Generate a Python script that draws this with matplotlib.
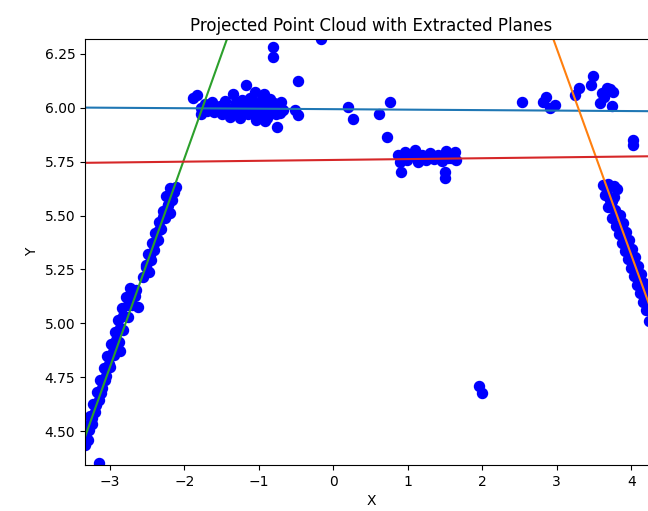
import numpy as np
import matplotlib
matplotlib.use("Agg")
import matplotlib.pyplot as plt

# projected points (x, y)
left_band = [
    (-3.319, 4.473), (-3.279, 4.505), (-3.346, 4.528), (-3.239, 4.533), (-3.266, 4.570),
    (-3.199, 4.589), (-3.226, 4.626), (-3.145, 4.645), (-3.172, 4.681), (-3.105, 4.700),
    (-3.132, 4.737), (-3.051, 4.756), (-3.078, 4.793), (-3.011, 4.811), (-3.038, 4.848),
    (-2.957, 4.867), (-2.984, 4.904), (-2.917, 4.922), (-2.930, 4.960), (-2.863, 4.978),
    (-2.890, 5.015), (-2.823, 5.034), (-2.836, 5.071), (-2.756, 5.085), (-2.783, 5.122),
    (-2.716, 5.136), (-2.729, 5.164), (-2.648, 5.154), (-2.620, 5.075), (-2.860, 4.870),
    (-3.293, 4.459), (-3.333, 4.436),
    (-3.300, 4.505), (-3.240, 4.563), (-3.180, 4.621), (-3.120, 4.679), (-3.060, 4.737),
    (-3.000, 4.796), (-2.940, 4.854), (-2.880, 4.912), (-2.820, 4.970), (-2.760, 5.028),
    (-2.700, 5.086), (-2.660, 5.125),
    (-2.555, 5.215), (-2.475, 5.238), (-2.515, 5.270), (-2.448, 5.293), (-2.488, 5.321),
    (-2.407, 5.340), (-2.434, 5.372), (-2.354, 5.386), (-2.394, 5.419), (-2.313, 5.437),
    (-2.340, 5.470), (-2.260, 5.488), (-2.286, 5.521), (-2.192, 5.512), (-2.219, 5.549),
    (-2.165, 5.572), (-2.246, 5.591), (-2.139, 5.609), (-2.192, 5.628), (-2.111, 5.632),
    (-2.520, 5.260), (-2.460, 5.319), (-2.400, 5.377), (-2.340, 5.435), (-2.280, 5.493),
    (-2.220, 5.551), (-2.160, 5.609),
]
top_cluster = [
    (-1.883, 6.045), (-1.830, 6.059), (-1.776, 5.999), (-1.776, 5.971), (-1.722, 6.017),
    (-1.628, 6.026), (-1.601, 5.980), (-1.521, 6.008), (-1.494, 5.971), (-1.413, 5.999),
    (-1.387, 5.957), (-1.346, 6.064), (-1.306, 6.026), (-1.279, 5.985), (-1.252, 5.952),
    (-1.185, 6.008), (-1.172, 6.105), (-1.145, 5.971), (-1.118, 6.045), (-1.078, 5.999),
    (-1.051, 6.073), (-1.038, 5.943), (-0.997, 6.026), (-0.970, 5.975), (-0.930, 6.064),
    (-0.917, 6.008), (-0.890, 5.952), (-0.850, 6.040), (-0.836, 5.989), (-0.796, 6.022),
    (-0.769, 5.971), (-0.729, 6.008), (-0.675, 5.989), (-0.756, 5.910), (-0.809, 6.282),
    (-0.809, 6.235), (-0.474, 6.124), (-0.514, 5.989), (-0.474, 5.966), (-0.165, 6.319),
    (-1.700, 5.985), (-1.560, 6.000), (-1.450, 6.030), (-1.330, 6.000), (-1.220, 6.035),
    (-1.100, 6.010), (-1.000, 5.990), (-0.950, 6.040), (-0.880, 6.000), (-0.800, 5.995),
    (-1.200, 5.975), (-1.050, 5.965), (-0.720, 5.975), (-0.700, 6.025), (-0.920, 5.940),
    (-1.600, 6.005),
]
middle_cluster = [
    (0.868, 5.781), (0.895, 5.748), (0.962, 5.795), (0.989, 5.757), (1.056, 5.776),
    (1.097, 5.804), (1.137, 5.748), (1.191, 5.781), (1.244, 5.757), (1.298, 5.790),
    (1.352, 5.762), (1.405, 5.781), (1.459, 5.753), (1.513, 5.799), (1.540, 5.767),
    (1.593, 5.781), (1.634, 5.795), (1.647, 5.757), (0.909, 5.702), (1.499, 5.702),
    (1.499, 5.674), (1.000, 5.775), (1.150, 5.770), (1.300, 5.770), (1.450, 5.770),
    (1.580, 5.765), (0.930, 5.765),
    (0.201, 6.005), (0.260, 5.948), (0.617, 5.969), (0.761, 6.028), (0.717, 5.866),
]
right_scatter = [
    (2.529, 6.028), (2.855, 6.051), (2.819, 6.028), (2.976, 6.013), (2.909, 5.997),
    (3.302, 6.090), (3.244, 6.059), (3.482, 6.147), (3.455, 6.105), (3.670, 6.090),
    (3.758, 6.074), (3.603, 6.067), (3.580, 6.020), (3.737, 6.008), (3.710, 6.085),
    (3.630, 6.050), (4.019, 5.850), (4.027, 5.827),
    (1.960, 4.711), (2.000, 4.675), (-3.141, 4.350),
]
right_band = [
    (3.620, 5.641), (3.687, 5.646), (3.768, 5.637), (3.808, 5.623), (3.647, 5.595),
    (3.714, 5.572), (3.768, 5.586), (3.687, 5.539), (3.781, 5.525), (3.741, 5.488),
    (3.848, 5.502), (3.794, 5.451), (3.888, 5.465), (3.835, 5.414), (3.929, 5.423),
    (3.875, 5.372), (3.969, 5.386), (3.916, 5.335), (4.010, 5.345), (3.956, 5.298),
    (4.050, 5.307), (3.996, 5.256), (4.090, 5.266), (4.036, 5.219), (4.130, 5.229),
    (4.077, 5.177), (4.170, 5.186), (4.117, 5.140), (4.211, 5.150), (4.157, 5.098),
    (4.251, 5.108), (4.197, 5.061), (4.278, 5.052), (4.240, 5.010), (4.300, 4.990),
    (3.680, 5.623), (3.740, 5.566), (3.800, 5.508), (3.860, 5.451), (3.920, 5.394),
    (3.980, 5.336), (4.040, 5.279), (4.100, 5.221), (4.160, 5.164), (4.220, 5.106),
]

# fitted planes seen as lines y = slope * x + intercept
plane_slopes = [-0.0022, -0.957, 0.9685, 0.004]
plane_intercepts = [5.9935, 9.145, 7.701, 5.758]

xlim = (-3.333, 4.345)
ylim = (4.343, 6.319)

pts = np.array(left_band + top_cluster + middle_cluster + right_scatter + right_band)

fig = plt.figure(figsize=(6.48, 5.11), dpi=100)
ax = fig.add_axes([85 / 648, 46 / 511, 572 / 648, 426 / 511])
ax.scatter(pts[:, 0], pts[:, 1], color='blue', s=52)
xs = np.array(xlim)
for m, b in zip(plane_slopes, plane_intercepts):
    ax.plot(xs, m * xs + b)
ax.set_xlim(xlim)
ax.set_ylim(ylim)
ax.set_xlabel('X')
ax.set_ylabel('Y')
ax.set_title('Projected Point Cloud with Extracted Planes')
fig.savefig('out.png', dpi=100)
